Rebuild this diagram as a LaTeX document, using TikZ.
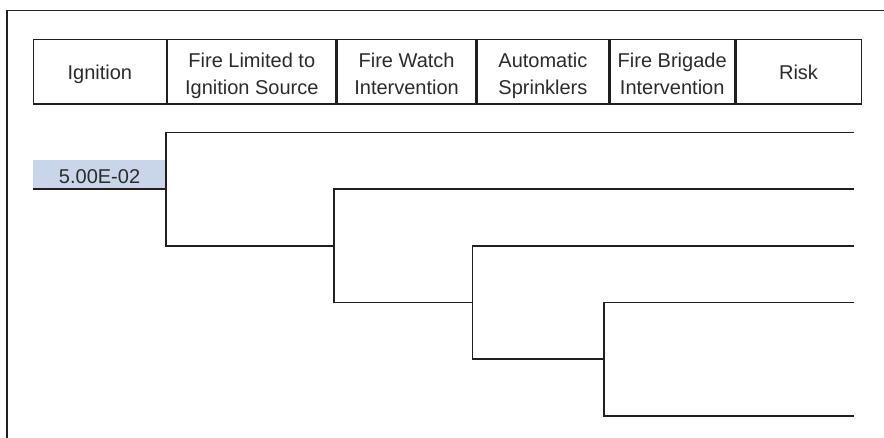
\documentclass[tikz,border=0pt]{standalone}
\usepackage{fontspec}
\setmainfont{Liberation Sans}
\definecolor{inkline}{HTML}{231F20}
\definecolor{inktext}{HTML}{2B2B2B}
\definecolor{probfill}{HTML}{C9D5E8}
\setlength{\tabcolsep}{0pt}
\newcommand{\headlines}[1]{\begin{tabular}[t]{c}#1\end{tabular}}
\tikzset{
  frame/.style={draw=inkline, line width=1.3pt},
  headcell/.style={draw=inkline, line width=1.3pt, inner sep=0pt, minimum height=64.5pt},
  headtext/.style={inner sep=0pt, anchor=base, text=inktext, font=\fontsize{20}{27}\selectfont},
  probbox/.style={fill=probfill, inner sep=0pt, minimum width=133.3pt, minimum height=29pt,
    text height=17.6pt, text depth=0pt, text=inktext, font=\fontsize{20}{24}\selectfont},
  branch/.style={draw=inkline, line width=1.3pt, line join=miter}
}
\begin{document}
\begin{tikzpicture}[x=1pt, y=-1pt]
  \useasboundingbox (0,0) rectangle (884,438);

  % outer frame: top and left edges only
  \coordinate (fTL) at (7,10.5);
  \coordinate (fTR) at (884,10.5);
  \coordinate (fBL) at (7,438);
  \draw[frame] (fTR) -- (fTL) -- (fBL);

  % header row of event columns
  \node[headcell, minimum width=133pt,   anchor=north west] (h1) at (32.7,39) {};
  \node[headcell, minimum width=168.3pt, anchor=north west] (h2) at (h1.north east) {};
  \node[headcell, minimum width=138.7pt, anchor=north west] (h3) at (h2.north east) {};
  \node[headcell, minimum width=131.3pt, anchor=north west] (h4) at (h3.north east) {};
  \node[headcell, minimum width=124.7pt, anchor=north west] (h5) at (h4.north east) {};
  \node[headcell, minimum width=125.3pt, anchor=north west] (h6) at (h5.north east) {};

  % column titles (baselines: one line at 78.7, two lines at 67.3 / 94)
  \node[headtext, yshift=-7.5pt] (t1) at (h1.center) {\headlines{Ignition}};
  \node[headtext, yshift=4pt]    (t2) at (h2.center) {\headlines{Fire Limited to\\Ignition Source}};
  \node[headtext, yshift=4pt]    (t3) at (h3.center) {\headlines{Fire Watch\\Intervention}};
  \node[headtext, yshift=4pt]    (t4) at (h4.center) {\headlines{Automatic\\Sprinklers}};
  \node[headtext, yshift=4pt]    (t5) at (h5.center) {\headlines{Fire Brigade\\Intervention}};
  \node[headtext, yshift=-7.5pt] (t6) at (h6.center) {\headlines{Risk}};

  % initiating event frequency
  \node[probbox, anchor=south west] (p0) at (32.7,189) {5.00E-02};
  \draw[branch] (p0.south west) -- (p0.south east);

  % junction and end points of the event tree
  \coordinate (u1) at (166,132.7);  \coordinate (d1) at (166,246);   \coordinate (e1) at (854,132.7);
  \coordinate (r1) at (334,246);    \coordinate (u2) at (334,189);   \coordinate (d2) at (334,302.7);
  \coordinate (e2) at (854,189);
  \coordinate (r2) at (472.7,302.7); \coordinate (u3) at (472.7,246); \coordinate (d3) at (472.7,359);
  \coordinate (e3) at (854,246);
  \coordinate (r3) at (604,359);    \coordinate (u4) at (604,302.7); \coordinate (d4) at (604,416);
  \coordinate (e4) at (854,302.7);  \coordinate (e5) at (854,416);

  % branches
  \draw[branch] (e1) -- (u1) -- (d1) -- (r1);
  \draw[branch] (e2) -- (u2) -- (d2) -- (r2);
  \draw[branch] (e3) -- (u3) -- (d3) -- (r3);
  \draw[branch] (e4) -- (u4) -- (d4) -- (e5);
\end{tikzpicture}
\end{document}
